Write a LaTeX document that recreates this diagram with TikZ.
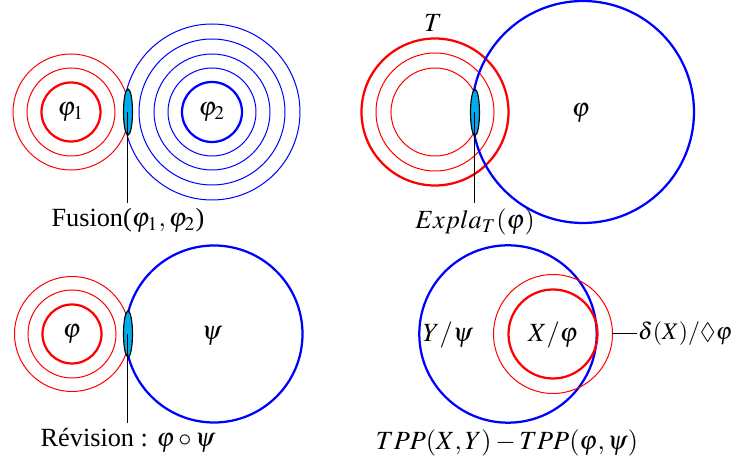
\documentclass[tikz,border=0pt]{standalone}
\usepackage{mathptmx}
\usepackage{amssymb}
\usepackage{fontspec}
\setmainfont{Liberation Serif}
\usepackage{tikz}
\usetikzlibrary{shapes.geometric,positioning,calc}
\definecolor{lensfill}{RGB}{0,172,236}
\tikzset{
  rthin/.style={draw=red, line width=0.4pt},
  rthick/.style={draw=red, line width=0.9pt},
  bthin/.style={draw=blue, line width=0.4pt},
  bthick/.style={draw=blue, line width=0.9pt},
  lens/.style={ellipse, draw=black, fill=lensfill, line width=0.45pt,
               minimum width=3.6pt, minimum height=18.4pt, inner sep=0pt},
  lbl/.style={inner sep=2pt},
  pin/.style={draw=black, line width=0.4pt}
}

\begin{document}
\begin{tikzpicture}[x=0.4pt, y=-0.4pt, font=\fontsize{10.5pt}{12.5pt}\selectfont]
  \useasboundingbox (0,0) rectangle (736,465);
  % fusion
  \draw[rthick] (71,112) circle[radius=29.5];
  \foreach \r in {44,58} \draw[rthin] (71,112) circle[radius=\r];
  \draw[bthick] (212,112) circle[radius=30];
  \foreach \r in {44,58,73,88} \draw[bthin] (212,112) circle[radius=\r];
  \node (p1) at (71,112) {$\varphi_1$};
  \node (p2) at (212,112) {$\varphi_2$};
  \node[lens] (e1) at (128,112) {};
  \node[lbl, anchor=north] (l1) at (128,203) {Fusion($\varphi_1,\varphi_2$)};
  \draw[pin] (e1.center) -- (l1.north);
  % explanation
  \draw[rthick] (435,112) circle[radius=73.5];
  \foreach \r in {44,59} \draw[rthin] (435,112) circle[radius=\r];
  \draw[bthick] (583,112) circle[radius=111];
  \node (t) at (433,23) {$T$};
  \node (p) at (581,113) {$\varphi$};
  \node[lens] (e2) at (475,112.5) {};
  \node[lbl, anchor=north] (l2) at (475,203) {$Expla_T(\varphi)$};
  \draw[pin] (e2.center) -- (l2.north);
  % revision
  \draw[rthick] (72,334) circle[radius=29.5];
  \foreach \r in {44,57.5} \draw[rthin] (72,334) circle[radius=\r];
  \draw[bthick] (214,334) circle[radius=88.5];
  \node (q1) at (72,334) {$\varphi$};
  \node (q2) at (212,336) {$\psi$};
  \node[lens] (e3) at (128,334) {};
  \node[lbl, anchor=north] (l3) at (128,423) {Révision : $\varphi\circ\psi$};
  \draw[pin] (e3.center) -- (l3.north);
  % tpp
  \draw[bthick] (508,334) circle[radius=88.7];
  \draw[rthick] (553,334) circle[radius=44.5];
  \draw[rthin] (553,334) circle[radius=59.5];
  \node (y) at (448,335) {$Y/\psi$};
  \node (x) at (553,335) {$X/\varphi$};
  \coordinate (xr) at (612.5,334);
  \node[lbl, anchor=west, inner sep=0.3pt, font=\fontsize{9.5pt}{11pt}\selectfont]
    (l4) at (637,334) {$\delta(X)/\Diamond\varphi$};
  \draw[pin] (xr) -- (l4.west);
  \node[lbl] (l5) at (507,443) {$TPP(X,Y)-TPP(\varphi,\psi)$};
\end{tikzpicture}
\end{document}
